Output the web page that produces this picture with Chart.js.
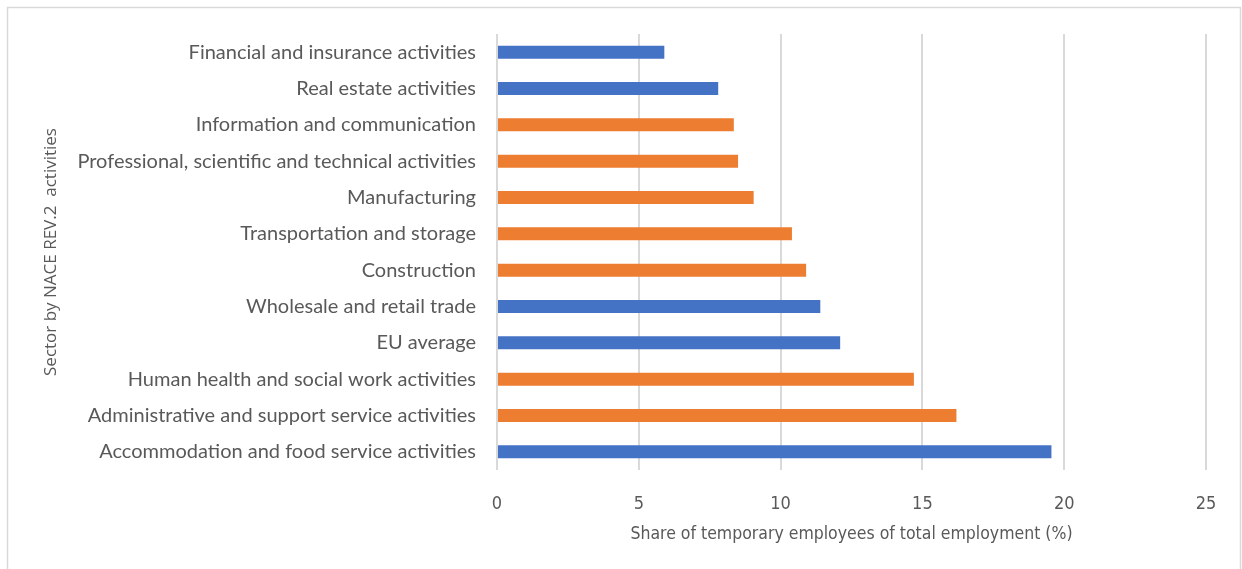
<!DOCTYPE html>
<html>
<head>
<meta charset="utf-8">
<script src="https://cdn.jsdelivr.net/npm/chart.js@4/dist/chart.umd.min.js"></script>
<style>
    html, body { margin: 0; padding: 0; background: #fff; }
    #wrap { width: 1242px; height: 569px; position: relative; }
</style>
</head>
<body>
<div id="wrap"><canvas id="chart-canvas"></canvas></div>
<script>
// Sectors, top to bottom as shown
const sectors = [
    'Financial and insurance activities',
    'Real estate activities',
    'Information and communication',
    'Professional, scientific and technical activities',
    'Manufacturing',
    'Transportation and storage',
    'Construction',
    'Wholesale and retail trade',
    'EU average',
    'Human health and social work activities',
    'Administrative and support service activities',
    'Accommodation and food service activities'
];

// Share of temporary employees (%)
const shares = [5.9, 7.8, 8.35, 8.5, 9.05, 10.4, 10.9, 11.4, 12.1, 14.7, 16.2, 19.55];

// Which colour group each bar belongs to
const groups = ['blue', 'blue', 'orange', 'orange', 'orange', 'orange', 'orange', 'blue', 'blue', 'orange', 'orange', 'blue'];

const xTicks = [0, 5, 10, 15, 20, 25];

const palette = { blue: '#4472c4', orange: '#ed7d31' };
const textColor = '#595959';
const gridColor = '#d9d9d9';

// Light frame around the chart, like the exported picture
const framePlugin = {
    id: 'frame',
    beforeDraw(chart) {
        const ctx = chart.ctx;
        ctx.save();
        ctx.strokeStyle = gridColor;
        ctx.lineWidth = 1.5;
        ctx.strokeRect(7.5, 7.5, chart.width - 9, chart.height + 20);
        ctx.restore();
    }
};

const ctx = document.getElementById('chart-canvas');

new Chart(ctx, {
    type: 'bar',
    data: {
        labels: sectors,
        datasets: [{
            data: shares,
            backgroundColor: groups.map(g => palette[g]),
            barPercentage: 0.9,
            categoryPercentage: 0.4
        }]
    },
    options: {
        indexAxis: 'y',
        responsive: true,
        maintainAspectRatio: false,
        animation: false,
        layout: {
            padding: { top: 34, right: 36, bottom: 0, left: 0 }
        },
        plugins: {
            legend: { display: false },
            tooltip: { enabled: false }
        },
        scales: {
            x: {
                min: 0,
                max: 25,
                afterBuildTicks: scale => {
                    scale.ticks = xTicks.map(v => ({ value: v }));
                },
                afterFit: scale => { scale.height = 99; },
                grid: {
                    color: gridColor,
                    lineWidth: 2,
                    drawTicks: false
                },
                border: { display: false },
                ticks: {
                    color: textColor,
                    padding: 24,
                    font: { family: '"Liberation Sans Narrow", "DejaVu Sans Condensed", sans-serif', size: 18 }
                },
                title: {
                    display: true,
                    text: 'Share of temporary employees of total employment (%)',
                    color: textColor,
                    padding: { top: 0, bottom: 24 },
                    font: { family: '"Liberation Sans Narrow", "DejaVu Sans Condensed", sans-serif', size: 17.5 }
                }
            },
            y: {
                afterFit: scale => { scale.width = 497; },
                grid: { display: false, drawTicks: false },
                border: { display: false },
                ticks: {
                    color: textColor,
                    padding: 21,
                    font: { family: 'Lato, sans-serif', size: 20 }
                },
                title: {
                    display: true,
                    text: 'Sector by NACE REV.2  activities',
                    color: textColor,
                    padding: { top: 41, bottom: 0 },
                    font: { family: '"Open Sans", sans-serif', size: 17 }
                }
            }
        }
    },
    plugins: [framePlugin]
});
</script>
</body>
</html>
